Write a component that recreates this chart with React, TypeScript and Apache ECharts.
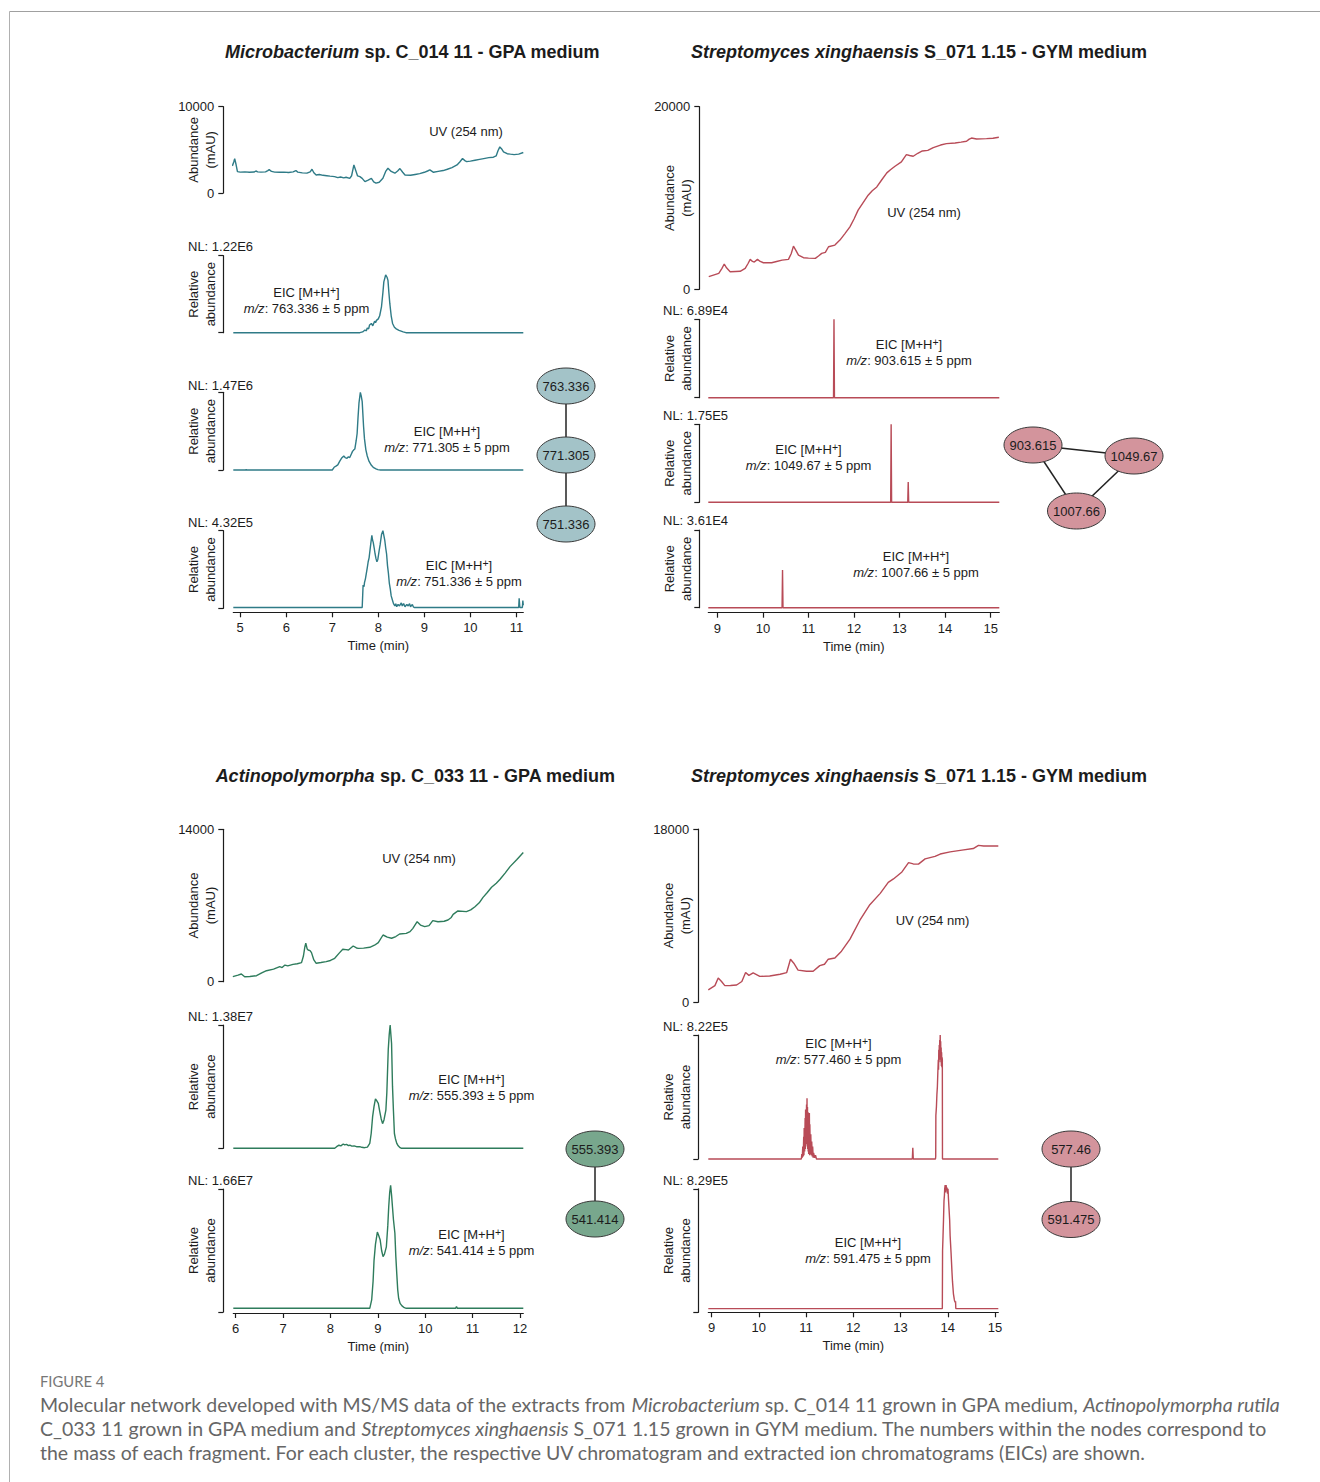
import React, { useEffect, useRef } from "react";
import * as echarts from "echarts";

type Pt = [number, number];

// ---------------- DATA ----------------
// Panel A: Microbacterium sp. C_014 11 - GPA medium
const micTicks = [5, 6, 7, 8, 9, 10, 11];
const micUV: Pt[] = [[4.83,3140],[4.86,3600],[4.88,3990],[4.91,3300],[4.94,2480],[5.0,2420],[5.1,2450],[5.2,2400],[5.3,2430],[5.34,2550],[5.38,2450],[5.45,2420],[5.55,2450],[5.6,2600],[5.63,2710],[5.68,2500],[5.75,2420],[5.85,2400],[5.95,2420],[6.05,2380],[6.15,2450],[6.21,2600],[6.25,2420],[6.35,2330],[6.45,2300],[6.52,2450],[6.56,2750],[6.6,2350],[6.65,2090],[6.72,2150],[6.8,2050],[6.88,2000],[6.95,1950],[7.05,1900],[7.12,1780],[7.18,1850],[7.25,1760],[7.3,1820],[7.38,1700],[7.42,2000],[7.47,3250],[7.51,2600],[7.55,1980],[7.6,1900],[7.65,1700],[7.71,1320],[7.78,1500],[7.85,1700],[7.9,1300],[7.95,1150],[8.02,1250],[8.1,1700],[8.16,2500],[8.21,2870],[8.28,2500],[8.36,2290],[8.42,2550],[8.47,2830],[8.53,2400],[8.58,2090],[8.7,2050],[8.8,2150],[8.9,2250],[9.0,2400],[9.07,2550],[9.12,2670],[9.2,2400],[9.3,2500],[9.41,2600],[9.5,2750],[9.6,2950],[9.71,3250],[9.77,3600],[9.83,3990],[9.88,3750],[9.92,3640],[10.0,3700],[10.1,3800],[10.2,3900],[10.29,3990],[10.4,4100],[10.5,4150],[10.56,4300],[10.6,4900],[10.64,5350],[10.68,5100],[10.72,4770],[10.8,4550],[10.87,4500],[10.95,4450],[11.05,4500],[11.15,4690]];
const micEIC763: Pt[] = [[4.85,0],[7.6,0],[7.66,1],[7.71,3.5],[7.74,2.5],[7.76,6],[7.79,5],[7.81,10],[7.85,12],[7.88,9],[7.92,15],[7.94,13],[7.96,16],[8.0,18],[8.03,22],[8.07,34],[8.1,52],[8.12,66],[8.16,75],[8.19,72],[8.21,68],[8.23,52],[8.25,38],[8.28,22],[8.31,12],[8.35,7],[8.39,5],[8.45,3],[8.54,1],[8.6,0],[11.15,0]];
const micEIC771: Pt[] = [[4.85,0],[5.12,0],[5.13,0.8],[5.14,0],[7.0,0],[7.04,3.5],[7.08,5],[7.12,6.6],[7.16,11],[7.2,15],[7.25,18],[7.28,16],[7.32,15],[7.35,17],[7.38,16],[7.41,20],[7.44,24],[7.47,26],[7.49,27],[7.52,38],[7.54,47],[7.56,68],[7.58,86],[7.61,100],[7.63,95],[7.65,88],[7.68,56],[7.7,40],[7.73,26],[7.76,18],[7.8,11],[7.85,6],[7.89,3.5],[7.95,1.5],[7.99,0.5],[8.05,0],[11.15,0]];
const micEIC751: Pt[] = [[4.85,1],[7.65,1],[7.66,1],[7.67,30],[7.69,28],[7.7,33],[7.72,38],[7.74,45],[7.76,52],[7.78,60],[7.8,65],[7.82,75],[7.84,85],[7.86,94],[7.875,88],[7.89,85],[7.91,78],[7.93,70],[7.95,64],[7.97,60],[7.99,63],[8.02,75],[8.04,82],[8.07,95],[8.1,100],[8.12,94],[8.14,88],[8.16,78],[8.18,70],[8.2,55],[8.22,45],[8.24,32],[8.26,25],[8.28,16],[8.3,12],[8.33,6],[8.36,3],[8.38,6],[8.4,2],[8.43,5],[8.46,3],[8.5,7],[8.52,3],[8.55,6],[8.58,2],[8.62,5],[8.65,3],[8.68,6],[8.7,2],[8.74,5],[8.76,2],[8.78,1],[11.05,1],[11.06,13],[11.075,1],[11.13,1],[11.14,10],[11.15,4]];
const micNodes = ["763.336", "771.305", "751.336"];

// Panel B: Streptomyces xinghaensis S_071 1.15 - GYM medium (cluster 1)
const sx1Ticks = [9, 10, 11, 12, 13, 14, 15];
const sx1UV: Pt[] = [[8.81,1380],[9.03,1750],[9.1,2300],[9.15,2770],[9.2,2350],[9.28,1920],[9.4,1950],[9.5,1970],[9.61,2300],[9.67,2800],[9.72,3280],[9.77,3050],[9.81,2980],[9.88,3280],[9.94,3050],[10.01,2910],[10.19,2910],[10.3,3050],[10.42,3200],[10.56,3280],[10.62,3900],[10.67,4730],[10.72,4300],[10.78,3750],[10.89,3460],[11.0,3420],[11.15,3390],[11.22,3650],[11.29,3930],[11.37,4040],[11.44,4660],[11.58,4840],[11.69,5390],[11.8,6100],[11.91,6840],[12.0,7700],[12.09,8670],[12.2,9500],[12.31,10310],[12.4,10800],[12.5,11210],[12.61,12000],[12.72,12750],[12.8,13100],[12.9,13480],[13.04,13950],[13.1,14400],[13.15,14750],[13.22,14650],[13.3,14570],[13.4,14900],[13.5,15150],[13.62,15220],[13.74,15520],[13.9,15800],[14.03,15960],[14.22,16030],[14.35,16120],[14.47,16210],[14.53,16450],[14.58,16570],[14.69,16460],[14.91,16500],[15.05,16550],[15.18,16650]];
const sx1EIC903: Pt[] = [[8.8,0],[11.55,0],[11.56,100],[11.57,0],[15.19,0]];
const sx1EIC1049: Pt[] = [[8.8,0],[12.805,0],[12.815,100],[12.825,0],[13.18,0],[13.19,26],[13.2,0],[15.19,0]];
const sx1EIC1007: Pt[] = [[8.8,0],[10.42,0],[10.43,48.5],[10.44,0],[15.19,0]];
const sx1Nodes = ["903.615", "1049.67", "1007.66"];

// Panel C: Actinopolymorpha sp. C_033 11 - GPA medium
const actTicks = [6, 7, 8, 9, 10, 11, 12];
const actUV: Pt[] = [[5.94,460],[6.05,600],[6.12,710],[6.19,460],[6.3,480],[6.44,550],[6.55,800],[6.65,1010],[6.8,1150],[6.93,1380],[6.98,1300],[7.04,1530],[7.1,1450],[7.21,1590],[7.3,1650],[7.39,1750],[7.43,2360],[7.46,3200],[7.48,3530],[7.51,3000],[7.53,2910],[7.57,2850],[7.6,2670],[7.65,2000],[7.7,1690],[7.8,1760],[7.91,1840],[8.0,1950],[8.09,2150],[8.18,2600],[8.26,2980],[8.33,2950],[8.38,2910],[8.48,3280],[8.55,3100],[8.59,3060],[8.7,3080],[8.83,3160],[8.93,3350],[9.01,3590],[9.11,4290],[9.2,4100],[9.29,3990],[9.38,4150],[9.46,4380],[9.6,4440],[9.68,4600],[9.74,4900],[9.83,5510],[9.9,5200],[9.99,5060],[10.08,5150],[10.16,5610],[10.27,5510],[10.4,5550],[10.48,5670],[10.55,5900],[10.59,6190],[10.69,6500],[10.87,6440],[10.96,6600],[11.05,6890],[11.14,7250],[11.22,7750],[11.31,8200],[11.4,8670],[11.5,9050],[11.58,9410],[11.69,10000],[11.79,10570],[11.93,11200],[12.07,11860]];
const actEIC555: Pt[] = [[5.95,0],[8.09,0],[8.13,1.3],[8.18,2.5],[8.22,2],[8.27,3.5],[8.3,2.8],[8.34,3.2],[8.38,2.2],[8.41,2.5],[8.45,1.8],[8.5,2],[8.55,1.3],[8.62,1.3],[8.66,0.8],[8.72,0.5],[8.78,1],[8.83,4],[8.86,12],[8.89,25.7],[8.92,34],[8.95,40],[8.97,39],[9.01,36.5],[9.04,30],[9.07,24],[9.1,20],[9.13,23],[9.17,31],[9.19,45],[9.22,80],[9.24,92],[9.26,100],[9.28,90],[9.29,85],[9.31,50],[9.33,30],[9.35,12],[9.37,8],[9.4,4],[9.43,2],[9.47,0.5],[9.5,0],[12.07,0]];
const actEIC541: Pt[] = [[5.95,3],[8.83,3],[8.87,9.8],[8.9,25],[8.92,42],[8.95,55],[8.99,65],[9.02,62],[9.05,58.5],[9.08,50],[9.11,45],[9.14,47],[9.18,53],[9.21,70],[9.23,85.6],[9.25,97],[9.27,103],[9.29,95],[9.31,85],[9.33,75],[9.36,64],[9.38,45],[9.4,31],[9.42,18],[9.44,11],[9.47,7],[9.51,5],[9.56,3.5],[9.6,3],[10.64,3],[10.66,4.5],[10.68,3],[12.07,3]];
const actNodes = ["555.393", "541.414"];

// Panel D: Streptomyces xinghaensis S_071 1.15 - GYM medium (cluster 2)
const sx2Ticks = [9, 10, 11, 12, 13, 14, 15];
const sx2UV: Pt[] = [[8.93,1290],[9.07,1720],[9.14,2510],[9.21,2150],[9.28,1720],[9.4,1740],[9.53,1790],[9.64,2150],[9.72,3080],[9.79,2790],[9.88,3040],[10.02,2680],[10.23,2720],[10.45,2910],[10.59,3080],[10.67,4470],[10.74,4050],[10.83,3330],[11.01,3220],[11.15,3220],[11.29,3800],[11.39,3940],[11.47,4470],[11.61,4590],[11.75,5300],[11.93,6550],[12.14,8520],[12.35,10130],[12.57,11310],[12.74,12460],[12.85,12810],[13.03,13540],[13.17,14510],[13.27,14370],[13.38,14350],[13.52,14890],[13.73,15150],[13.84,15400],[14.05,15620],[14.3,15800],[14.54,15970],[14.65,16300],[14.76,16230],[15.07,16230]];
const sx2EIC577: Pt[] = [[8.93,0],[10.9,0],[10.91,4],[10.92,1],[10.93,10],[10.94,2],[10.95,18],[10.955,3],[10.96,25],[10.97,6],[10.98,33],[10.985,8],[10.99,40],[11.0,12],[11.01,44],[11.015,15],[11.02,49],[11.025,10],[11.03,42],[11.035,8],[11.04,38],[11.045,6],[11.05,30],[11.055,4],[11.06,36],[11.065,5],[11.07,37],[11.075,3],[11.08,28],[11.09,4],[11.1,20],[11.11,3],[11.12,14],[11.13,2],[11.14,10],[11.15,1],[11.16,5],[11.18,1],[11.2,3],[11.22,0],[13.25,0],[13.26,9],[13.27,0],[13.74,0],[13.745,2],[13.748,35],[13.76,42],[13.77,52],[13.78,58],[13.79,70],[13.8,80],[13.805,72],[13.81,88],[13.815,78],[13.82,92],[13.825,82],[13.83,96],[13.835,85],[13.84,100],[13.845,80],[13.85,95],[13.855,78],[13.86,90],[13.865,75],[13.87,86],[13.875,74],[13.88,82],[13.885,80],[13.888,0],[15.07,0]];
const sx2EIC591: Pt[] = [[8.93,3],[13.885,3],[13.89,50],[13.9,62],[13.91,75],[13.92,90],[13.93,95],[13.935,100],[13.945,103],[13.955,97],[13.965,103],[13.975,99],[13.985,101],[13.995,96],[14.005,100],[14.015,92],[14.025,85],[14.04,75],[14.05,62],[14.06,55],[14.07,48],[14.08,40],[14.09,32],[14.1,25],[14.12,15],[14.14,10],[14.155,8],[14.165,9],[14.17,3],[15.07,3]];
const sx2Nodes = ["577.46", "591.475"];

// ---------------- STYLE ----------------
const FONT = '"Liberation Sans", Arial, Helvetica, sans-serif';
const CAP_FONT = 'Lato, "Open Sans", sans-serif';
const INK = "#1c1c1c";
const TEAL = "#2f7b87";
const TEAL_NODE = "#a3c3c8";
const RED = "#b84b57";
const RED_NODE = "#d3949c";
const GREEN = "#2e7c5c";
const GREEN_NODE = "#78a78d";

type Plot = { top: number; height: number; max: number; data: Pt[]; uv: boolean };
type Panel = { left: number; width: number; xMin: number; xMax: number; ticks: number[]; yOff: number; xOff: number; color: string; plots: Plot[] };

function buildOption() {
  const grid: any[] = [];
  const xAxis: any[] = [];
  const yAxis: any[] = [];
  const series: any[] = [];
  const axisLineStyle = { color: INK, width: 1.2 };

  const panels: Panel[] = [
    { left: 233.3, width: 290, xMin: 4.85, xMax: 11.15, ticks: micTicks, yOff: 10, xOff: 4, color: TEAL, plots: [
      { top: 106.7, height: 86.3, max: 10000, data: micUV, uv: true },
      { top: 255.7, height: 77, max: 100, data: micEIC763, uv: false },
      { top: 392.3, height: 77.7, max: 100, data: micEIC771, uv: false },
      { top: 530.7, height: 77.6, max: 100, data: micEIC751, uv: false },
    ] },
    { left: 708.3, width: 291, xMin: 8.8, xMax: 15.19, ticks: sx1Ticks, yOff: 9, xOff: 5, color: RED, plots: [
      { top: 106.7, height: 182.6, max: 20000, data: sx1UV, uv: true },
      { top: 319.3, height: 78.4, max: 100, data: sx1EIC903, uv: false },
      { top: 424.3, height: 78, max: 100, data: sx1EIC1049, uv: false },
      { top: 530, height: 77.7, max: 100, data: sx1EIC1007, uv: false },
    ] },
    { left: 233.3, width: 290, xMin: 5.95, xMax: 12.07, ticks: actTicks, yOff: 10, xOff: 1, color: GREEN, plots: [
      { top: 829.3, height: 152.4, max: 14000, data: actUV, uv: true },
      { top: 1025, height: 123.3, max: 100, data: actEIC555, uv: false },
      { top: 1189, height: 123, max: 100, data: actEIC541, uv: false },
    ] },
    { left: 708.3, width: 290, xMin: 8.93, xMax: 15.07, ticks: sx2Ticks, yOff: 10, xOff: 0, color: RED, plots: [
      { top: 829, height: 173.2, max: 18000, data: sx2UV, uv: true },
      { top: 1035, height: 124, max: 100, data: sx2EIC577, uv: false },
      { top: 1188.8, height: 123.5, max: 100, data: sx2EIC591, uv: false },
    ] },
  ];

  panels.forEach((p) => {
    p.plots.forEach((pl, k) => {
      const gi = grid.length;
      grid.push({ left: p.left, top: pl.top, width: p.width, height: pl.height, containLabel: false, outerBoundsMode: "none" });
      const last = k === p.plots.length - 1;
      if (last) {
        xAxis.push({
          type: "value", gridIndex: gi, min: p.xMin, max: p.xMax, offset: p.xOff,
          axisLine: { show: true, onZero: false, lineStyle: axisLineStyle },
          axisTick: { show: true, length: 5, customValues: p.ticks, lineStyle: axisLineStyle },
          axisLabel: { show: true, customValues: p.ticks, fontSize: 13, color: INK, fontFamily: FONT, margin: 9, formatter: (v: number) => String(v) },
          splitLine: { show: false },
          name: "Time (min)", nameLocation: "middle", nameGap: 27,
          nameTextStyle: { fontSize: 13, color: INK, fontFamily: FONT },
        });
      } else {
        xAxis.push({ type: "value", gridIndex: gi, min: p.xMin, max: p.xMax, show: false });
      }
      yAxis.push({
        type: "value", gridIndex: gi, min: 0, max: pl.max, interval: pl.max, offset: p.yOff,
        axisLine: { show: true, lineStyle: axisLineStyle },
        axisTick: { show: true, length: 5, lineStyle: axisLineStyle },
        axisLabel: { show: pl.uv, fontSize: 13, color: INK, fontFamily: FONT, margin: 9, formatter: (v: number) => String(v) },
        splitLine: { show: false },
        name: pl.uv ? "Abundance\n(mAU)" : "Relative\nabundance",
        nameLocation: "middle", nameRotate: 90, nameGap: 5, nameMoveOverlap: false,
        nameTextStyle: { fontSize: 13, color: INK, fontFamily: FONT, lineHeight: 16.5, align: "center" },
      });
      series.push({
        type: "line", xAxisIndex: gi, yAxisIndex: gi, data: pl.data, showSymbol: false, symbol: "none",
        clip: false, silent: true, lineStyle: { color: p.color, width: 1.4 }, itemStyle: { color: p.color },
      });
    });
  });

  // ------------- graphic texts / network -------------
  const g: any[] = [];
  const titleRich = {
    i: { fontStyle: "italic", fontWeight: "bold", fontSize: 18, fontFamily: FONT, fill: INK },
    b: { fontWeight: "bold", fontSize: 18, fontFamily: FONT, fill: INK },
  };
  const title = (x: number, y: number, it: string, rest: string) =>
    g.push({ type: "text", x, y, style: { text: `{i|${it}}{b|${rest}}`, rich: titleRich, align: "center", verticalAlign: "middle" } });
  title(412.5, 52, "Microbacterium", " sp. C_014 11 - GPA medium");
  title(919, 52, "Streptomyces xinghaensis", " S_071 1.15 - GYM medium");
  title(415.5, 776, "Actinopolymorpha", " sp. C_033 11 - GPA medium");
  title(919, 776, "Streptomyces xinghaensis", " S_071 1.15 - GYM medium");

  const plain = (x: number, y: number, text: string, align = "left") =>
    g.push({ type: "text", x, y, style: { text, fontSize: 13, fontFamily: FONT, fill: INK, align, verticalAlign: "middle" } });
  // UV labels
  plain(466, 131.5, "UV (254 nm)", "center");
  plain(924, 212.5, "UV (254 nm)", "center");
  plain(419, 858, "UV (254 nm)", "center");
  plain(932.5, 920.5, "UV (254 nm)", "center");
  // NL labels
  [[188, 246, "NL: 1.22E6"], [188, 385, "NL: 1.47E6"], [188, 522, "NL: 4.32E5"],
   [663, 310.5, "NL: 6.89E4"], [663, 415.5, "NL: 1.75E5"], [663, 520.5, "NL: 3.61E4"],
   [188, 1016, "NL: 1.38E7"], [188, 1180, "NL: 1.66E7"],
   [663, 1026.5, "NL: 8.22E5"], [663, 1180, "NL: 8.29E5"]].forEach(([x, y, t]) => plain(x as number, y as number, t as string));

  const annRich = {
    n: { fontSize: 13, fontFamily: FONT, fill: INK, lineHeight: 16 },
    s: { fontSize: 10.5, fontFamily: FONT, fill: INK, lineHeight: 8, verticalAlign: "top" },
    i: { fontSize: 13, fontFamily: FONT, fill: INK, lineHeight: 16, fontStyle: "italic" },
  };
  const eic = (x: number, y: number, mz: string) =>
    g.push({ type: "text", x, y, style: { text: `{n|EIC [M+H}{s|+}{n|]}\n{i|m/z}{n|: ${mz} ± 5 ppm}`, rich: annRich, align: "center", verticalAlign: "middle" } });
  eic(306.5, 300, "763.336");
  eic(447, 439.5, "771.305");
  eic(459, 573, "751.336");
  eic(909, 352, "903.615");
  eic(808.5, 457, "1049.67");
  eic(916, 564, "1007.66");
  eic(471.5, 1087, "555.393");
  eic(471.5, 1242, "541.414");
  eic(838.5, 1051, "577.460");
  eic(868, 1250, "591.475");

  // networks
  const edge = (a: number[], b: number[]) =>
    g.push({ type: "line", z: 5, shape: { x1: a[0], y1: a[1], x2: b[0], y2: b[1] }, style: { stroke: "#222", lineWidth: 1.5 } });
  const node = (c: number[], label: string, fill: string) => {
    g.push({ type: "ellipse", z: 10, shape: { cx: c[0], cy: c[1], rx: 29, ry: 18 }, style: { fill, stroke: "#3a3a3a", lineWidth: 1 } });
    g.push({ type: "text", z: 11, x: c[0], y: c[1], style: { text: label, fontSize: 13, fontFamily: FONT, fill: INK, align: "center", verticalAlign: "middle" } });
  };
  const micPos = [[566, 386], [566, 455], [566, 524]];
  edge(micPos[0], micPos[1]); edge(micPos[1], micPos[2]);
  micNodes.forEach((l, i) => node(micPos[i], l, TEAL_NODE));
  const sx1Pos = [[1033, 445], [1134, 456], [1076.5, 511]];
  edge(sx1Pos[0], sx1Pos[1]); edge(sx1Pos[0], sx1Pos[2]); edge(sx1Pos[1], sx1Pos[2]);
  sx1Nodes.forEach((l, i) => node(sx1Pos[i], l, RED_NODE));
  const actPos = [[595, 1149], [595, 1219]];
  edge(actPos[0], actPos[1]);
  actNodes.forEach((l, i) => node(actPos[i], l, GREEN_NODE));
  const sx2Pos = [[1071, 1149], [1071, 1219.5]];
  edge(sx2Pos[0], sx2Pos[1]);
  sx2Nodes.forEach((l, i) => node(sx2Pos[i], l, RED_NODE));

  // frame
  g.push({ type: "line", shape: { x1: 9.5, y1: 11.5, x2: 1320, y2: 11.5 }, style: { stroke: "#a0a0a0", lineWidth: 1 } });
  g.push({ type: "line", shape: { x1: 9.5, y1: 11.5, x2: 9.5, y2: 1482 }, style: { stroke: "#b0b0b0", lineWidth: 1 } });

  // caption
  g.push({ type: "text", x: 40, y: 1381, style: { text: "FIGURE 4", fontSize: 14.8, fontFamily: CAP_FONT, fill: "#777", align: "left", verticalAlign: "middle" } });
  const capRich = { it: { fontStyle: "italic", fontSize: 19.5, fontFamily: CAP_FONT, fill: "#666" } };
  const capLines = [
    "Molecular network developed with MS/MS data of the extracts from {it|Microbacterium} sp. C_014 11 grown in GPA medium, {it|Actinopolymorpha rutila}",
    "C_033 11 grown in GPA medium and {it|Streptomyces xinghaensis} S_071 1.15 grown in GYM medium. The numbers within the nodes correspond to",
    "the mass of each fragment. For each cluster, the respective UV chromatogram and extracted ion chromatograms (EICs) are shown.",
  ];
  capLines.forEach((t, i) =>
    g.push({ type: "text", x: 40, y: 1404 + i * 24, style: { text: t, rich: capRich, fontSize: 19.5, fontFamily: CAP_FONT, fill: "#666", align: "left", verticalAlign: "middle" } })
  );

  return {
    animation: false,
    backgroundColor: "#ffffff",
    textStyle: { fontFamily: FONT },
    grid, xAxis, yAxis, series,
    graphic: { elements: g },
  };
}

export default function App() {
  const ref = useRef<HTMLDivElement>(null);
  useEffect(() => {
    document.body.style.margin = "0";
    const chart = echarts.init(ref.current!, undefined, { renderer: "svg", width: 1320, height: 1482 });
    chart.setOption(buildOption() as any);
    return () => chart.dispose();
  }, []);
  return <div ref={ref} style={{ position: "absolute", left: 0, top: 0, width: 1320, height: 1482, background: "#fff" }} />;
}
